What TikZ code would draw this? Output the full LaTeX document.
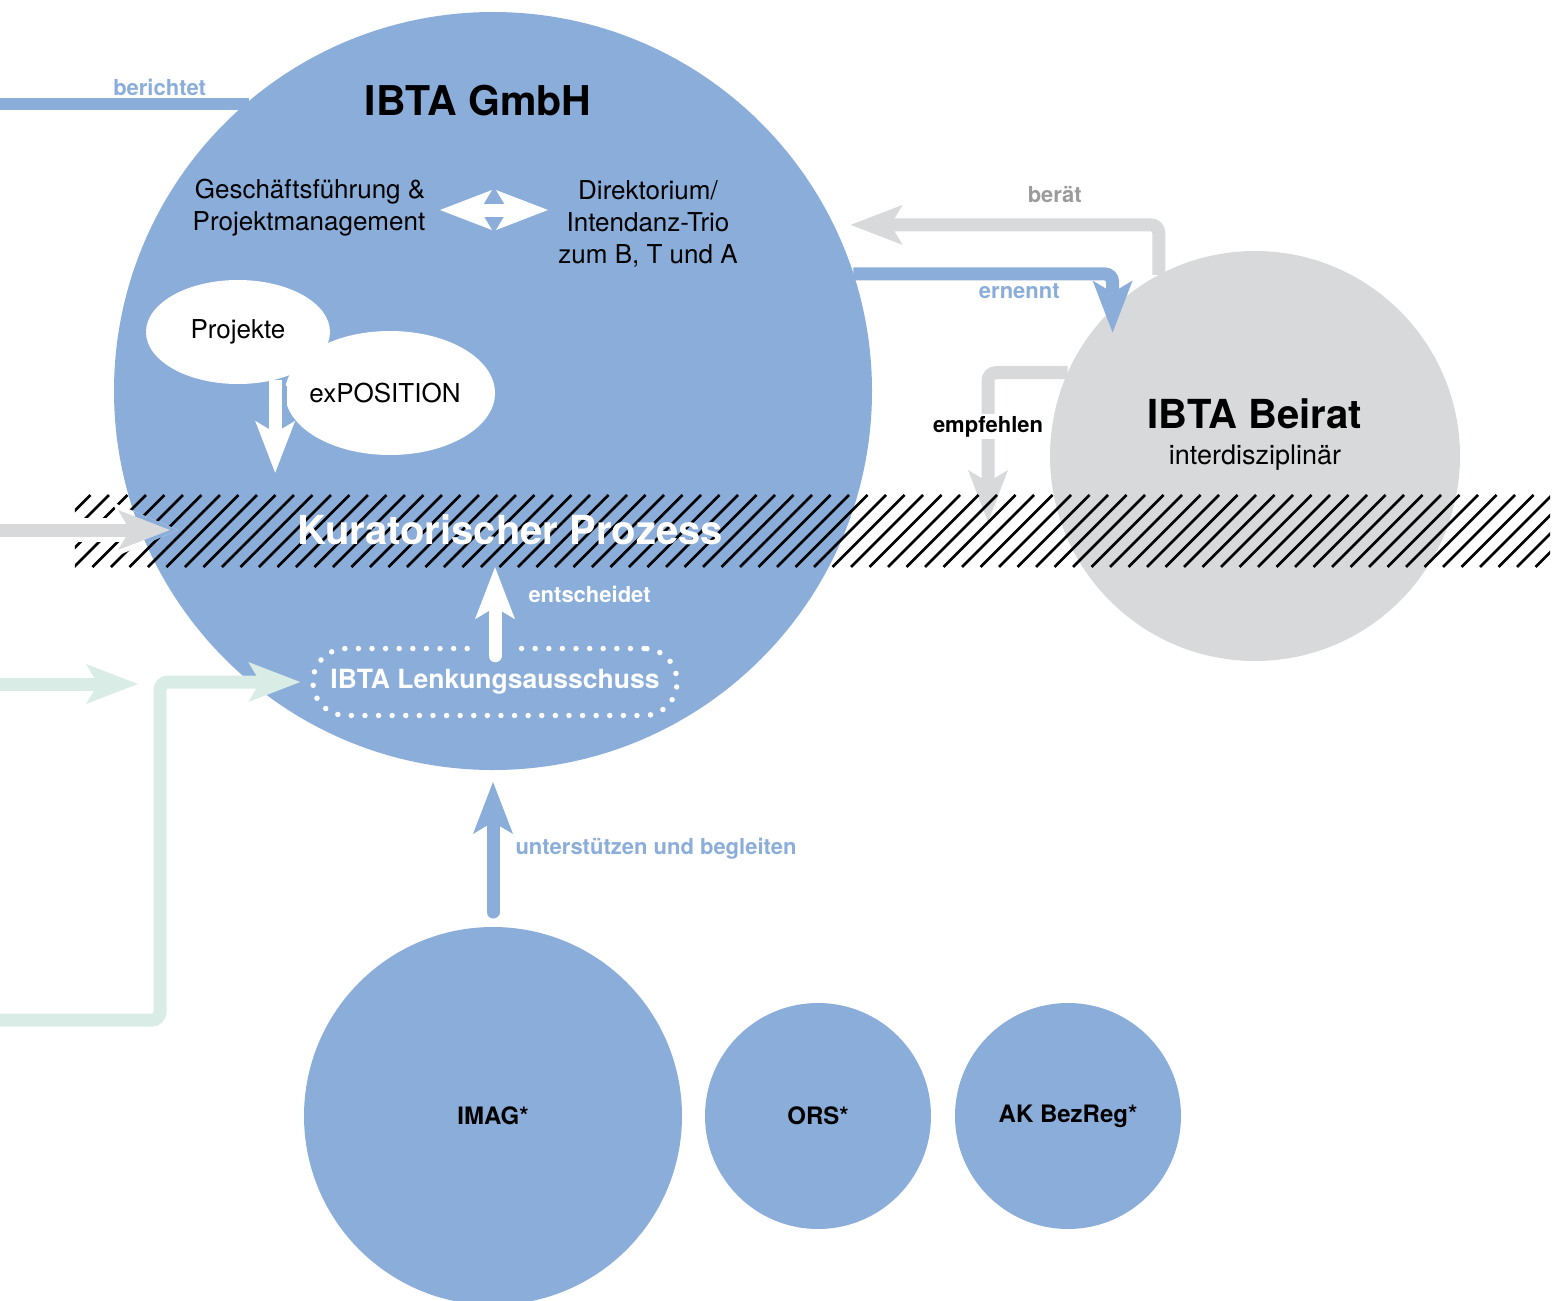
\documentclass[tikz,border=0pt]{standalone}
\usepackage{fontspec}
\setmainfont{TeX Gyre Heros}
\usetikzlibrary{
    arrows.meta,
    calc,
    positioning,
    shapes.geometric
}
\definecolor{ibtablue}{HTML}{8AADDA}
\definecolor{ibtagrey}{HTML}{D8D9DB}
\definecolor{ibtateal}{HTML}{D9ECE6}
\definecolor{labelgrey}{HTML}{9B9B9B}
\newcommand{\fsz}[2]{\fontsize{#1}{#2}\selectfont}
\tikzset{
    every picture/.style = {
        > = {Stealth[length = 52pt, width = 40pt, inset = 12pt, line width = 0pt]}
    },
    disc/.style = {
        circle,
        inner sep = 0pt,
        outer sep = 0pt,
        fill = #1
    },
    blob/.style = {
        ellipse,
        inner sep = 0pt,
        outer sep = 0pt,
        fill = white
    },
    flow/.style = {
        line width = 13pt,
        draw = #1,
        ->
    },
    elbow/.style = {
        flow = #1,
        rounded corners = 8pt
    },
    halo/.style = {
        line width = 24pt,
        draw = #1
    },
    tag/.style = {
        font = \fsz{22pt}{26pt}\bfseries,
        text = #1,
        inner sep = 2pt
    },
    dotted border/.style = {
        line cap = round,
        dash pattern = on 0pt off #1
    }
}

\begin{document}
\begin{tikzpicture}[x = 1pt, y = -1pt, node font = \fsz{26pt}{32pt}]
    \useasboundingbox (0,0) rectangle (1558,1301);

    \node[minimum width = 1475pt, minimum height = 72pt, inner sep = 0pt] (band) at (812.5,531) {};
    \coordinate (rep) at (0,104);
    \coordinate (kin) at (0,530);
    \coordinate (kend) at (170,530);
    \coordinate (tin1) at (0,684);
    \coordinate (tend1) at (138,684);
    \coordinate (tin2) at (0,1020);
    \coordinate (tcorner) at (160,1020);
    \coordinate (empf) at (988,522);
    \coordinate (dblmid) at (494,210);
    \coordinate (gfend) at (440,210);
    \coordinate (dirend) at (548,210);

    \node[disc = ibtablue, minimum size = 758pt] (gmbh) at (493,391) {};
    \node[disc = ibtagrey, minimum size = 410pt] (beirat) at (1255,456) {};
    \node[disc = ibtablue, minimum size = 378pt, font = \fsz{24pt}{28pt}\bfseries] (imag) at (493,1116) {IMAG*};
    \node[disc = ibtablue, minimum size = 226pt, font = \fsz{24pt}{28pt}\bfseries] (ors) at (818,1116) {ORS*};
    \node[disc = ibtablue, minimum size = 226pt, font = \fsz{24pt}{28pt}\bfseries] (ak) at (1068,1116) {AK BezReg*};

    \node[font = \fsz{41pt}{46pt}\bfseries] (title) at (478,101) {IBTA GmbH};
    \node[align = right] (gf) at (309,208) {Geschäftsführung \&\\Projektmanagement};
    \node[align = center] (dir) at (648,224) {Direktorium/\\Intendanz-Trio\\zum B, T und A};
    \node[font = \fsz{40pt}{46pt}\bfseries] (btitle) at (1255,414) {IBTA Beirat};
    \node[font = \fsz{27pt}{32pt}] (bsub) at (1255,458) {interdisziplinär};

    \node[blob, minimum width = 184pt, minimum height = 104pt] (proj) at (238,332) {\raisebox{-3pt}{Projekte}};
    \node[blob, minimum width = 210pt, minimum height = 124pt] (expo) at (390,393) {\hspace*{-10pt}exPOSITION};

    \draw[flow = white] (dblmid) -- (gfend);
    \draw[flow = white] (dblmid) -- (dirend);
    \draw[halo = ibtablue] ([yshift = -6pt]proj.-52) -- ++(0,54);
    \draw[flow = white, shorten >= 22pt] (proj.-52) -- (proj.-52 |- band.north);

    \draw[line width = 12pt, ibtablue] (rep) -- node[tag = ibtablue, above = 0pt, pos = .64] {berichtet} (rep -| gmbh.130.8);
    \draw[elbow = ibtagrey, shorten >= 17pt] (beirat.118.6) |- node[tag = labelgrey, above = 14pt, pos = .66] {berät} (gmbh.26.8);
    \draw[elbow = ibtablue, shorten >= -24pt] (gmbh.18.9) -| node[tag = ibtablue, below = 1pt, pos = .32] {ernennt} (beirat.134.2);
    \draw[elbow = ibtagrey] (beirat.156.1) -| node[tag = black, fill = white, pos = .68] {empfehlen} (empf);

    \begin{scope}
        \clip (band.south west) rectangle (band.north east);
        \foreach \x in {0,18.5,...,1560}
            \draw[line width = 2.6pt] (\x,567) -- ++(72,-72);
    \end{scope}

    \draw[halo = white, -{Stealth[length = 66pt, width = 56pt, inset = 14pt, line width = 0pt]}] (kin) -- ([xshift = 8pt]kend);
    \begin{scope}
        \clip (gmbh.center) circle[radius = 379pt];
        \draw[halo = ibtablue, -{Stealth[length = 66pt, width = 56pt, inset = 14pt, line width = 0pt]}] (kin) -- ([xshift = 8pt]kend);
    \end{scope}
    \draw[flow = ibtagrey] (kin) -- (kend);

    \node[font = \fsz{40pt}{46pt}\bfseries, text = white] (kp) at (510,530) {Kuratorischer Prozess};

    \node[draw = white, line width = 5.5pt, dotted border = 13.6pt, rounded corners = 33pt, minimum width = 364pt, minimum height = 67pt, text = white, font = \fsz{26.5pt}{30pt}\bfseries] (lenk) at (495,682) {IBTA Lenkungsausschuss};
    \draw[halo = ibtablue, line width = 42pt] ([yshift = 8pt]lenk.north) -- ([yshift = -8pt]lenk.north);
    \draw[flow = white, line cap = round] ([yshift = -10pt]lenk.north) -- node[tag = white, right = 25pt, pos = .69] {entscheidet} (lenk.north |- band.south);

    \draw[flow = ibtateal] (tin1) -- (tend1);
    \draw[elbow = ibtateal, shorten >= 10pt] (tin2) -- (tcorner) |- (lenk.west);

    \draw[flow = ibtablue, line cap = round, shorten <= 15pt, shorten >= 12pt] (imag.north) -- node[tag = ibtablue, right = 14pt] {unterstützen und begleiten} (gmbh.south);
\end{tikzpicture}
\end{document}
